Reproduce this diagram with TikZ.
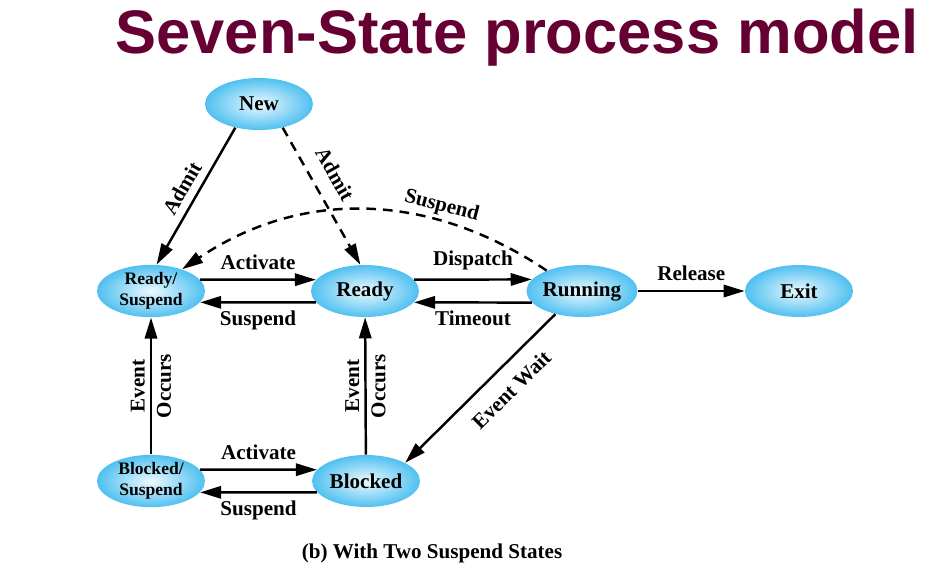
\documentclass[tikz,border=0pt]{standalone}
\usepackage{fontspec}
\setmainfont{Liberation Serif}
\setsansfont{Liberation Sans}
\usetikzlibrary{arrows.meta,shapes.geometric}
\definecolor{titlered}{RGB}{102,0,51}
\definecolor{stateblue}{RGB}{80,192,240}
\definecolor{statelight}{RGB}{236,249,255}

\begin{document}
\begin{tikzpicture}[x=0.02cm,y=-0.02cm]
	 \tikzstyle{proc}=[ellipse,minimum width=2.16cm,minimum height=1.04cm,inner sep=0pt,inner color=statelight,outer color=stateblue,font=\fontsize{12}{13}\selectfont\bfseries]
	 \tikzstyle{proctwo}=[proc,align=center,font=\fontsize{10}{12}\selectfont\bfseries]
	 \tikzstyle{trans}=[draw,line width=1.4pt,-{Triangle[length=12pt,width=7pt]},black]
	 \tikzstyle{susp}=[trans,dash pattern=on 5.5pt off 4pt]
	 \tikzstyle{lbl}=[font=\fontsize{12}{15}\selectfont\bfseries,inner sep=2pt]
	 \useasboundingbox (0,0) rectangle (946,586);

	 \node[font=\sffamily\bfseries\fontsize{35}{40}\selectfont,text=titlered,anchor=base] (title) at (517,53) {Seven-State process model};

	 \node[proc] (new) at (259,104) {New};
	 \node[proctwo] (rs) at (151,291) {Ready/\\Suspend};
	 \node[proc] (ready) at (365,291) {Ready};
	 \node[proc] (run) at (582,291) {Running};
	 \node[proc] (exit) at (799,291) {Exit};
	 \node[proctwo] (bs) at (151,481) {Blocked/\\Suspend};
	 \node[proc] (blk) at (366,481) {Blocked};

	 \draw[trans] (new.225) -- (rs.78) node[lbl,midway,sloped,above=2pt]{Admit};
	 \draw[susp] (new.-45) -- (ready.100) node[lbl,pos=0.42,sloped,above=6pt]{Admit};
	 \draw[susp] (run.150) to[out=146,in=34] node[lbl,pos=0.3,sloped,above=0pt]{Suspend} (rs.35);

	 \draw[trans] (rs.13) -- (ready.167) node[lbl,midway,above=3pt]{Activate};
	 \draw[trans] (ready.193) -- (rs.-13) node[lbl,midway,below=2pt]{Suspend};
	 \draw[trans] (ready.13) -- (run.167) node[lbl,midway,above=3pt]{Dispatch};
	 \draw[trans] (run.193) -- (ready.-13) node[lbl,midway,below=2pt]{Timeout};
	 \draw[trans] (run) -- (exit) node[lbl,midway,above=3pt]{Release};

	 \draw[trans] (run.221) -- (blk.25) node[lbl,pos=0.4,sloped,below=6pt]{Event Wait};
	 \draw[trans] (bs) -- (rs) node[lbl,midway,rotate=90,align=center]{Event\\Occurs};
	 \draw[trans] (blk) -- (ready) node[lbl,midway,rotate=90,align=center]{Event\\Occurs};

	 \draw[trans] (bs.13) -- (blk.167) node[lbl,midway,above=3pt]{Activate};
	 \draw[trans] (blk.193) -- (bs.-13) node[lbl,midway,below=2pt]{Suspend};

	 \node[lbl,anchor=base] (caption) at (432,558) {(b) With Two Suspend States};
\end{tikzpicture}
\end{document}
